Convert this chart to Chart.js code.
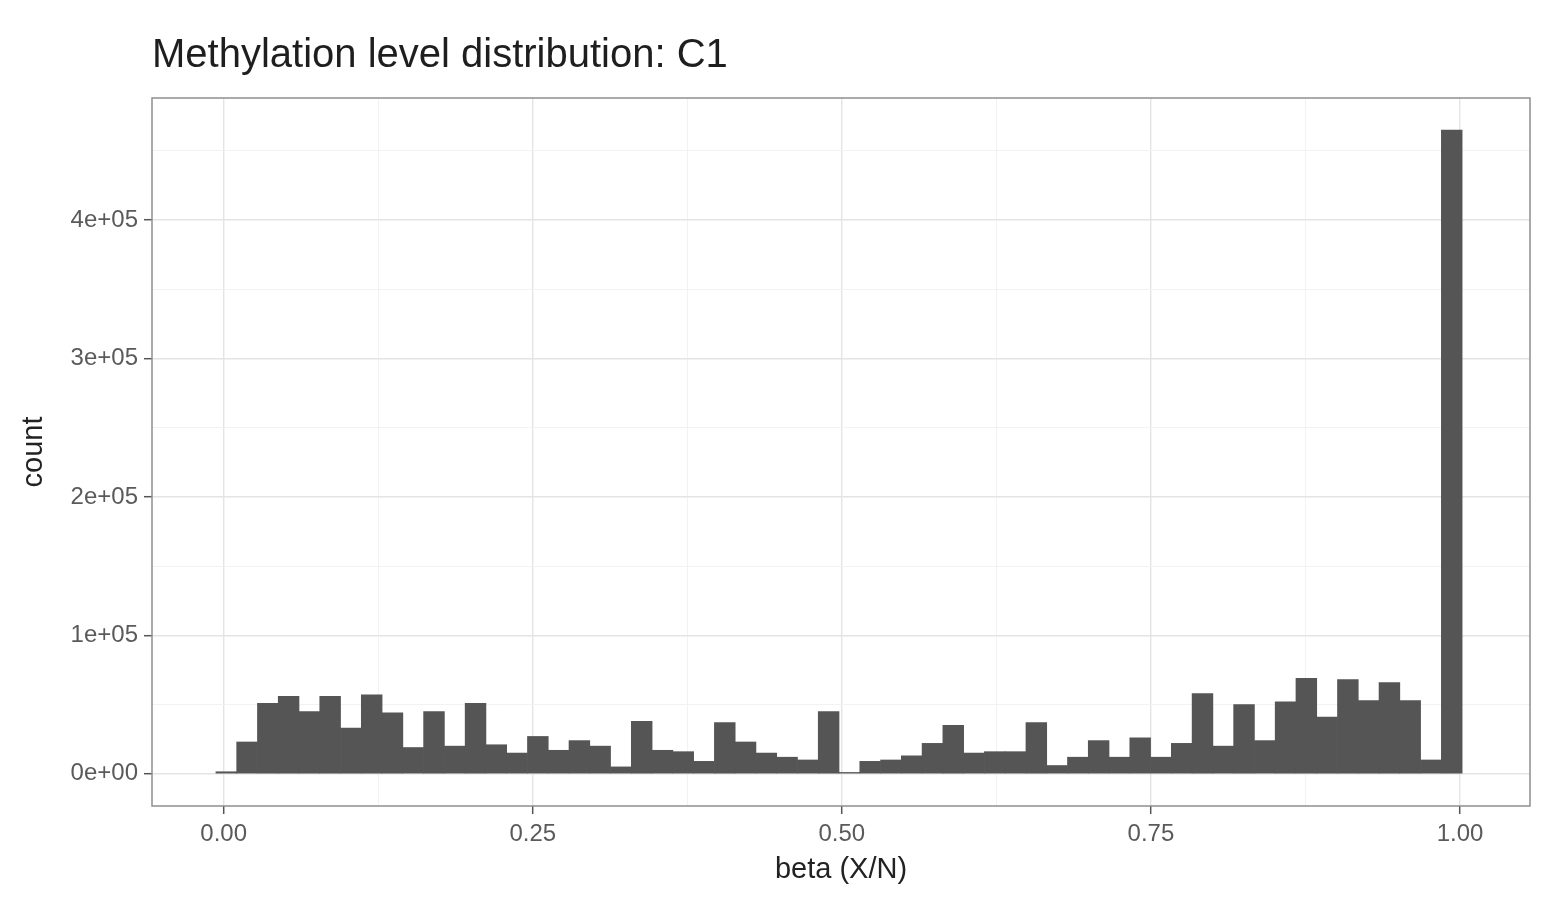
<!DOCTYPE html>
<html>
<head>
<meta charset="utf-8">
<script src="https://cdn.jsdelivr.net/npm/chart.js@4"></script>
<style>
  body { margin: 0; background: #fff; }
  #box { width: 1557px; height: 910px; position: relative; }
</style>
</head>
<body>
<div id="box"><canvas id="grafico"></canvas></div>
<script>
var titulo = "Methylation level distribution: C1";

// centros das classes do histograma (beta)
var binMids = [
  0.0021, 0.0189, 0.0357, 0.0525, 0.0693, 0.0861, 0.1029, 0.1197, 0.1365, 0.1533,
  0.1701, 0.1869, 0.2037, 0.2205, 0.2373, 0.2541, 0.2709, 0.2877, 0.3045, 0.3213,
  0.3381, 0.3549, 0.3717, 0.3885, 0.4053, 0.4221, 0.4389, 0.4557, 0.4725, 0.4893,
  0.5061, 0.5229, 0.5397, 0.5565, 0.5733, 0.5901, 0.6069, 0.6237, 0.6405, 0.6573,
  0.6741, 0.6909, 0.7077, 0.7245, 0.7413, 0.7581, 0.7749, 0.7917, 0.8085, 0.8253,
  0.8421, 0.8589, 0.8757, 0.8925, 0.9093, 0.9261, 0.9429, 0.9597, 0.9765, 0.9933
];

var counts = [
  1500, 23000, 51000, 56000, 45000, 56000, 33000, 57000, 44000, 19000,
  45000, 20000, 51000, 21000, 15000, 27000, 17000, 24000, 20000, 5000,
  38000, 17000, 16000, 9000, 37000, 23000, 15000, 12000, 10000, 45000,
  1000, 9000, 10000, 13000, 22000, 35000, 15000, 16000, 16000, 37000,
  6000, 12000, 24000, 12000, 26000, 12000, 22000, 58000, 20000, 50000,
  24000, 52000, 69000, 41000, 68000, 53000, 66000, 53000, 10000, 465000
];

var xTickValues = [0, 0.25, 0.5, 0.75, 1];
var xTickLabels = ["0.00", "0.25", "0.50", "0.75", "1.00"];
var xMinorValues = [0.125, 0.375, 0.625, 0.875];

var yTickValues = [0, 100000, 200000, 300000, 400000];
var yTickLabels = ["0e+00", "1e+05", "2e+05", "3e+05", "4e+05"];
var yMinorValues = [50000, 150000, 250000, 350000, 450000];

var fonte = '"Liberation Sans", Arial, sans-serif';
Chart.defaults.font.family = fonte;

function ehMaior(lista, c) {
  if (!c || !c.tick) return false;
  return lista.some((a) => Math.abs(a - c.tick.value) < 1e-9);
}

var painel = {
  id: "painel",
  afterDraw(chart) {
    const ctx = chart.ctx;
    const a = chart.chartArea;
    ctx.save();
    ctx.strokeStyle = "#8e8e8e";
    ctx.lineWidth = 1.5;
    ctx.strokeRect(a.left, a.top, a.right - a.left, a.bottom - a.top);
    ctx.fillStyle = "#1e1e1e";
    ctx.font = "40px " + fonte;
    ctx.textBaseline = "middle";
    ctx.textAlign = "left";
    ctx.fillText(titulo, a.left, 56);
    ctx.restore();
  },
};

function geraGrafico() {
  const ctx = document.getElementById("grafico");

  const data = {
    datasets: [
      {
        label: "count",
        data: binMids.map((x, i) => ({ x: x, y: counts[i] })),
        backgroundColor: "#555555",
        borderWidth: 0,
        barPercentage: 1.0,
        categoryPercentage: 1.0,
      },
    ],
  };

  const config = {
    type: "bar",
    data: data,
    options: {
      responsive: true,
      maintainAspectRatio: false,
      animation: false,
      layout: { padding: { top: 98, right: 27, bottom: 0, left: 0 } },
      plugins: { legend: { display: false }, tooltip: { enabled: false } },
      scales: {
        x: {
          type: "linear",
          min: -0.058,
          max: 1.0566,
          offset: false,
          afterBuildTicks: (scale) => {
            scale.ticks = xTickValues.concat(xMinorValues).sort((a, b) => a - b).map((v) => ({ value: v }));
          },
          afterFit: (scale) => {
            scale.height = 104;
          },
          ticks: {
            autoSkip: false,
            maxRotation: 0,
            padding: 6,
            color: "#5a5a5a",
            font: { size: 24 },
            callback: (v) => {
              const i = xTickValues.findIndex((a) => Math.abs(a - v) < 1e-9);
              return i >= 0 ? xTickLabels[i] : "";
            },
          },
          grid: {
            offset: false,
            color: (c) => (ehMaior(xTickValues, c) ? "#e4e4e4" : "#f1f1f1"),
            lineWidth: (c) => (ehMaior(xTickValues, c) ? 1.4 : 0.9),
            tickColor: (c) => (ehMaior(xTickValues, c) ? "#555" : "rgba(0,0,0,0)"),
            tickLength: 8,
            tickWidth: 1.5,
          },
          border: { display: false },
          title: {
            display: true,
            text: "beta (X/N)",
            color: "#222",
            font: { size: 29 },
            padding: { top: 0, bottom: 23 },
          },
        },
        y: {
          type: "linear",
          min: -23250,
          max: 488250,
          afterBuildTicks: (scale) => {
            scale.ticks = yTickValues.concat(yMinorValues).sort((a, b) => a - b).map((v) => ({ value: v }));
          },
          afterFit: (scale) => {
            scale.width = 152;
          },
          ticks: {
            autoSkip: false,
            padding: 6,
            color: "#5a5a5a",
            font: { size: 24 },
            callback: (v) => {
              const i = yTickValues.indexOf(v);
              return i >= 0 ? yTickLabels[i] : "";
            },
          },
          grid: {
            color: (c) => (ehMaior(yTickValues, c) ? "#e4e4e4" : "#f1f1f1"),
            lineWidth: (c) => (ehMaior(yTickValues, c) ? 1.4 : 0.9),
            tickColor: (c) => (ehMaior(yTickValues, c) ? "#555" : "rgba(0,0,0,0)"),
            tickLength: 8,
            tickWidth: 1.5,
          },
          border: { display: false },
          title: {
            display: true,
            text: "count",
            color: "#222",
            font: { size: 29 },
            padding: { top: 17, bottom: 0 },
          },
        },
      },
    },
    plugins: [painel],
  };

  new Chart(ctx, config);
}

geraGrafico();
</script>
</body>
</html>
